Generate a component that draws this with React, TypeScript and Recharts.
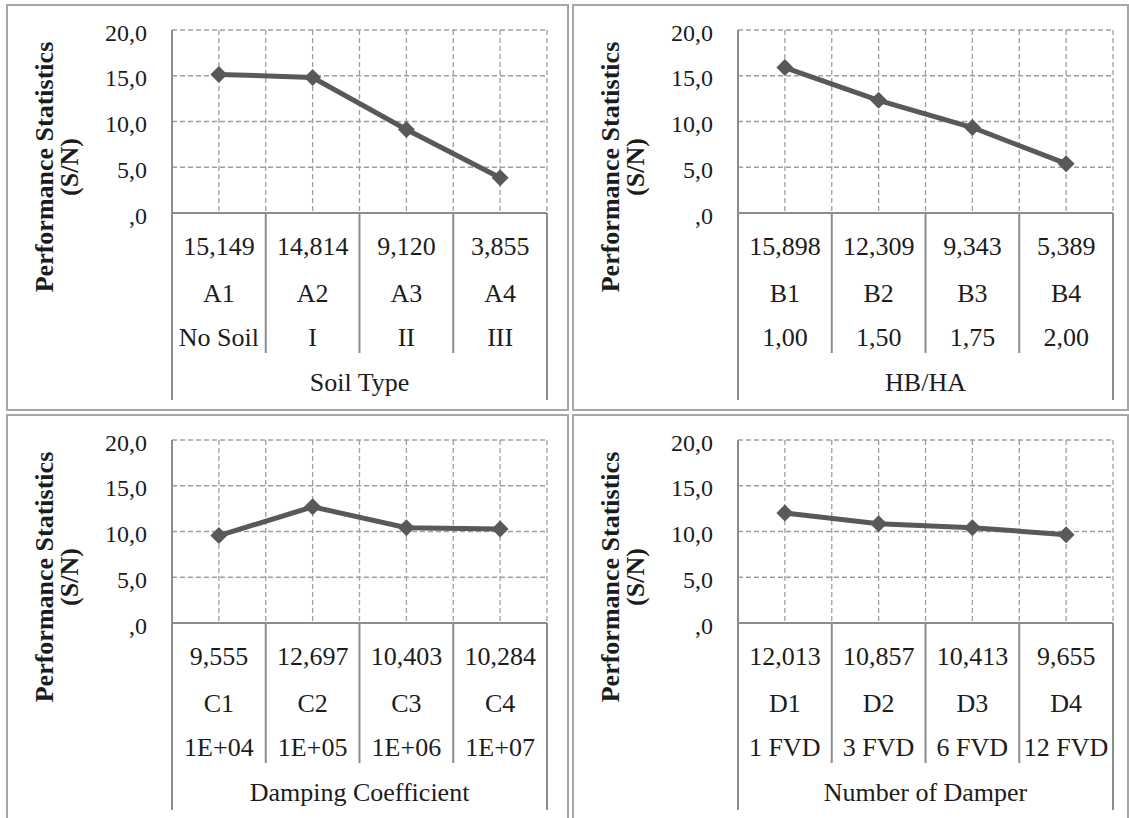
import { LineChart, Line, XAxis, YAxis, CartesianGrid } from 'recharts';

const FONT = '"Liberation Serif", "Times New Roman", serif';
const TEXT = '#1c1c1c';
const LINE = '#595959';
const AXIS = '#8c8c8c';
const GRID = '#9e9e9e';
const BORDER = '#a6a6a6';

// Panel A: soil type
const SOIL_CODES = ['A1', 'A2', 'A3', 'A4'];
const SOIL_LEVELS = ['No Soil', 'I', 'II', 'III'];
const SOIL_SN = [15.149, 14.814, 9.12, 3.855];

// Panel B: HB/HA
const HB_CODES = ['B1', 'B2', 'B3', 'B4'];
const HB_LEVELS = ['1,00', '1,50', '1,75', '2,00'];
const HB_SN = [15.898, 12.309, 9.343, 5.389];

// Panel C: damping coefficient
const DAMP_CODES = ['C1', 'C2', 'C3', 'C4'];
const DAMP_LEVELS = ['1E+04', '1E+05', '1E+06', '1E+07'];
const DAMP_SN = [9.555, 12.697, 10.403, 10.284];

// Panel D: number of dampers
const FVD_CODES = ['D1', 'D2', 'D3', 'D4'];
const FVD_LEVELS = ['1 FVD', '3 FVD', '6 FVD', '12 FVD'];
const FVD_SN = [12.013, 10.857, 10.413, 9.655];

const Y_TICKS = [0, 5, 10, 15, 20];
const Y_TITLE = 'Performance Statistics';
const Y_UNIT = '(S/N)';

const PLOT_TOP = 26;
const PLOT_H = 183;
const PLOT_RIGHT = 541;
const Y_AXIS_W = 166;

const comma = (v: number, d: number) => v.toFixed(d).replace('.', ',');

function TableTick(props: any) {
  const { x, y, payload, codes, levels, values } = props;
  const v = payload.value as number;
  if (Number.isInteger(v)) {
    const outer = v === 0 || v === codes.length;
    return (
      <line x1={x} x2={x} y1={y} y2={y + (outer ? 187 : 140)} stroke={AXIS} strokeWidth={2} />
    );
  }
  const i = Math.floor(v);
  const rows = [comma(values[i], 3), codes[i], levels[i]];
  const offs = [42, 89, 133];
  return (
    <g>
      {rows.map((t, r) => (
        <text key={r} x={x} y={y + offs[r]} textAnchor="middle" fontFamily={FONT} fontSize={26} fill={TEXT}>
          {t}
        </text>
      ))}
    </g>
  );
}

function Diamond(props: any) {
  const { cx, cy, index } = props;
  const r = 8.5;
  return (
    <polygon
      key={index}
      points={`${cx},${cy - r} ${cx + r},${cy} ${cx},${cy + r} ${cx - r},${cy}`}
      fill={LINE}
    />
  );
}

interface PanelProps {
  left: number;
  top: number;
  width: number;
  height: number;
  codes: string[];
  levels: string[];
  values: number[];
  title: string;
}

function Panel({ left, top, width, height, codes, levels, values, title }: PanelProps) {
  const data = values.map((v, i) => ({ pos: i + 0.5, sn: v }));
  const xTicks = Array.from({ length: codes.length * 2 + 1 }, (_, k) => k / 2);
  const xAxisH = height - PLOT_TOP - PLOT_H;

  return (
    <>
      <div style={{ position: 'absolute', left, top }}>
        <LineChart
          width={width}
          height={height}
          data={data}
          margin={{ top: PLOT_TOP, right: width - PLOT_RIGHT, bottom: 0, left: 0 }}
        >
          <CartesianGrid stroke={GRID} strokeDasharray="5 3" strokeWidth={1.3} />
          <XAxis
            dataKey="pos"
            type="number"
            domain={[0, codes.length]}
            ticks={xTicks}
            interval={0}
            height={xAxisH}
            tickLine={false}
            tickSize={0}
            tickMargin={0}
            axisLine={{ stroke: AXIS, strokeWidth: 2 }}
            tick={<TableTick codes={codes} levels={levels} values={values} />}
            label={({ viewBox }: any) => (
              <text
                x={viewBox.x + viewBox.width / 2}
                y={viewBox.y + 178}
                textAnchor="middle"
                fontFamily={FONT}
                fontSize={26}
                fill={TEXT}
              >
                {title}
              </text>
            )}
          />
          <YAxis
            type="number"
            domain={[0, 20]}
            ticks={Y_TICKS}
            interval={0}
            width={Y_AXIS_W}
            tickLine={false}
            tickSize={0}
            tickMargin={25}
            axisLine={{ stroke: AXIS, strokeWidth: 2 }}
            tick={{ fontSize: 24, fill: TEXT, fontFamily: FONT, dy: 2 }}
            tickFormatter={(v: number) => (v === 0 ? ',0' : comma(v, 1))}
            label={({ viewBox }: any) => {
              const cy = viewBox.y + 137;
              return (
                <g fontFamily={FONT} fontSize={26} fontWeight="bold" fill={TEXT} textAnchor="middle">
                  <text x={47} y={cy} transform={`rotate(-90, 47, ${cy})`}>
                    {Y_TITLE}
                  </text>
                  <text x={72} y={cy} transform={`rotate(-90, 72, ${cy})`}>
                    {Y_UNIT}
                  </text>
                </g>
              );
            }}
          />
          <Line
            type="linear"
            dataKey="sn"
            stroke={LINE}
            strokeWidth={5}
            dot={(p: any) => <Diamond key={p.index} {...p} />}
            activeDot={false}
            isAnimationActive={false}
          />
        </LineChart>
      </div>
      <div
        style={{
          position: 'absolute',
          left,
          top,
          width,
          height,
          boxSizing: 'border-box',
          border: `2px solid ${BORDER}`,
          pointerEvents: 'none',
        }}
      />
    </>
  );
}

export default function App() {
  return (
    <div
      style={{
        position: 'absolute',
        left: 0,
        top: 0,
        width: 1129,
        height: 818,
        overflow: 'hidden',
        background: '#fff',
      }}
    >
      <Panel left={6} top={4} width={563} height={407} codes={SOIL_CODES} levels={SOIL_LEVELS} values={SOIL_SN} title="Soil Type" />
      <Panel left={572} top={4} width={557} height={407} codes={HB_CODES} levels={HB_LEVELS} values={HB_SN} title="HB/HA" />
      <Panel left={6} top={414} width={563} height={410} codes={DAMP_CODES} levels={DAMP_LEVELS} values={DAMP_SN} title="Damping Coefficient" />
      <Panel left={572} top={414} width={557} height={410} codes={FVD_CODES} levels={FVD_LEVELS} values={FVD_SN} title="Number of Damper" />
    </div>
  );
}
